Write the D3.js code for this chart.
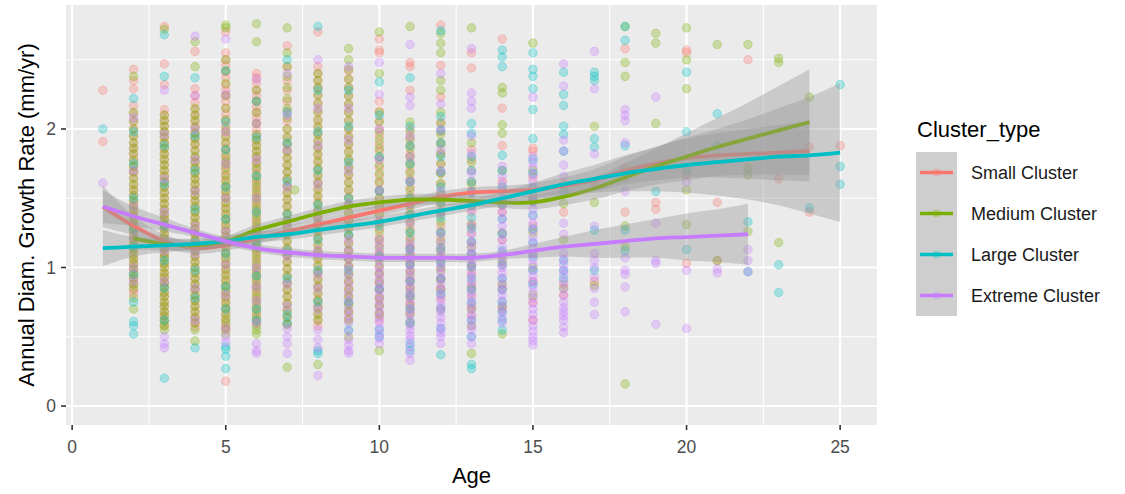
<!DOCTYPE html>
<html>
<head>
<meta charset="utf-8">
<script src="https://cdn.jsdelivr.net/npm/d3@7"></script>
<style>
  html, body { margin: 0; padding: 0; background: #ffffff; }
  svg { display: block; font-family: "Liberation Sans", Arial, sans-serif; }
</style>
</head>
<body>
<svg id="chart" width="1125" height="494"></svg>
<script>
// ---------- data ----------
const clusterNames = ["Small Cluster", "Medium Cluster", "Large Cluster", "Extreme Cluster"];
const clusterColors = ["#F8766D", "#7CAE00", "#00BFC4", "#C77CFF"];
const xTicks = [0, 5, 10, 15, 20, 25];
const yTicks = [0, 1, 2];
const xMinor = [2.5, 7.5, 12.5, 17.5, 22.5];
const yMinor = [0.5, 1.5, 2.5];

// observed points: [age, [growth rates]] (ages may repeat: several trees)
const smallPts = [
  [1, [2.28, 1.91]],
  [2, [2.43, 2.29, 2.17, 2.05, 1.95, 1.86, 1.78, 1.69, 1.60, 1.52, 1.45, 1.38, 1.31, 1.24, 1.17, 1.10, 1.03, 0.96, 0.88, 0.81]],
  [2, [2.35, 2.11, 2.00, 1.90, 1.82, 1.73, 1.65, 1.56, 1.48, 1.41, 1.34, 1.27, 1.20, 1.13, 1.06, 0.99, 0.92, 0.84]],
  [3, [2.74, 2.47, 2.32, 2.14, 2.06, 1.98, 1.90, 1.82, 1.74, 1.66, 1.58, 1.50, 1.42, 1.35, 1.28, 1.21, 1.14, 1.07, 1.00, 0.93, 0.86, 0.79, 0.72, 0.65, 0.58]],
  [3, [2.10, 2.02, 1.94, 1.86, 1.78, 1.70, 1.62, 1.54, 1.46, 1.38, 1.31, 1.24, 1.17, 1.10, 1.03, 0.96, 0.89, 0.82, 0.75, 0.68, 0.62]],
  [4, [2.56, 2.29, 2.19, 2.10, 2.02, 1.93, 1.85, 1.76, 1.68, 1.60, 1.52, 1.44, 1.36, 1.28, 1.20, 1.12, 1.04, 0.96, 0.88, 0.80, 0.72, 0.64, 0.57]],
  [4, [2.24, 2.14, 2.06, 1.97, 1.89, 1.80, 1.72, 1.64, 1.56, 1.48, 1.40, 1.32, 1.24, 1.16, 1.08, 1.00, 0.92, 0.84, 0.76, 0.68, 0.60]],
  [5, [2.70, 2.55, 2.46, 2.37, 2.28, 2.20, 2.11, 2.02, 1.94, 1.86, 1.78, 1.70, 1.62, 1.54, 1.46, 1.38, 1.30, 1.22, 1.14, 1.06, 0.98, 0.90, 0.82, 0.74, 0.66, 0.58, 0.18]],
  [5, [2.50, 2.41, 2.32, 2.24, 2.15, 2.06, 1.98, 1.90, 1.82, 1.74, 1.66, 1.58, 1.50, 1.42, 1.34, 1.26, 1.18, 1.10, 1.02, 0.94, 0.86, 0.78, 0.70, 0.62, 0.55]],
  [6, [2.40, 2.33, 2.24, 2.16, 2.08, 2.00, 1.92, 1.84, 1.76, 1.68, 1.60, 1.52, 1.44, 1.36, 1.28, 1.20, 1.12, 1.04, 0.96, 0.88, 0.80, 0.72, 0.64]],
  [6, [2.37, 2.28, 2.20, 2.12, 2.04, 1.96, 1.88, 1.80, 1.72, 1.64, 1.56, 1.48, 1.40, 1.32, 1.24, 1.16, 1.08, 1.00, 0.92, 0.84, 0.76, 0.68, 0.60]],
  [7, [2.60, 2.35, 2.20, 2.06, 1.94, 1.84, 1.74, 1.64, 1.54, 1.44, 1.34, 1.24, 1.14, 1.04, 0.94, 0.84, 0.74, 0.64]],
  [7, [2.45, 2.28, 2.13, 2.00, 1.89, 1.79, 1.69, 1.59, 1.49, 1.39, 1.29, 1.19, 1.09, 0.99, 0.89, 0.79, 0.69, 0.59]],
  [8, [2.70, 2.45, 2.35, 2.25, 2.13, 2.02, 1.92, 1.82, 1.72, 1.62, 1.52, 1.42, 1.32, 1.22, 1.12, 1.02, 0.92, 0.82, 0.72, 0.62, 0.58]],
  [8, [2.40, 2.30, 2.19, 2.07, 1.97, 1.87, 1.77, 1.67, 1.57, 1.47, 1.37, 1.27, 1.17, 1.07, 0.97, 0.87, 0.77, 0.67]],
  [9, [2.42, 2.30, 2.18, 2.06, 1.95, 1.84, 1.73, 1.62, 1.51, 1.40, 1.29, 1.18, 1.07, 0.96, 0.85, 0.74, 0.63]],
  [9, [2.36, 2.24, 2.12, 2.00, 1.89, 1.78, 1.67, 1.56, 1.45, 1.34, 1.23, 1.12, 1.01, 0.90, 0.79, 0.68]],
  [10, [2.65, 2.57, 2.55, 2.20, 2.06, 1.95, 1.84, 1.72, 1.61, 1.50, 1.39, 1.28, 1.17, 1.06, 0.95, 0.84, 0.73, 0.62]],
  [10, [2.13, 2.00, 1.89, 1.78, 1.66, 1.55, 1.44, 1.33, 1.22, 1.11, 1.00, 0.89, 0.78, 0.67]],
  [11, [2.48, 2.45, 2.28, 2.00, 1.88, 1.76, 1.64, 1.52, 1.40, 1.28, 1.16, 1.04, 0.92, 0.80, 0.68]],
  [11, [1.94, 1.82, 1.70, 1.58, 1.46, 1.34, 1.22, 1.10, 0.98, 0.86, 0.74]],
  [12, [2.75, 2.46, 2.23, 2.05, 1.90, 1.75, 1.60, 1.45, 1.30, 1.15, 1.00, 0.85, 0.70]],
  [12, [1.98, 1.82, 1.68, 1.52, 1.38, 1.22, 1.08, 0.92, 0.78]],
  [13, [2.55, 2.44, 1.85, 1.70, 1.55, 1.40, 1.25, 1.10, 0.95, 0.80, 0.65]],
  [13, [1.78, 1.62, 1.48, 1.32, 1.18, 1.02, 0.88, 0.72]],
  [14, [2.65, 2.15, 1.88, 1.62, 1.40, 1.20, 1.02, 0.85, 0.70]],
  [15, [1.86, 1.84, 1.65, 1.48, 1.30, 1.10, 0.90, 0.75, 0.62]],
  [16, [1.60, 1.40, 0.88, 0.80]],
  [17, [1.62, 0.90]],
  [18, [2.58, 1.72, 1.65, 1.40]],
  [19, [1.47, 1.42]],
  [20, [2.57, 2.55, 1.67, 1.03]],
  [21, [1.47, 1.05]],
  [22, [2.50]],
  [23, [1.64]],
  [24, [1.87, 1.40]],
  [25, [1.88]]
];
const mediumPts = [
  [2, [2.38, 2.12, 2.00, 1.90, 1.82, 1.73, 1.64, 1.56, 1.48, 1.41, 1.34, 1.27, 1.20, 1.13, 1.06, 0.99, 0.92, 0.85, 0.70]],
  [2, [2.06, 1.95, 1.86, 1.77, 1.69, 1.60, 1.52, 1.44, 1.37, 1.30, 1.23, 1.16, 1.09, 1.02, 0.95, 0.88, 0.78]],
  [3, [2.72, 2.10, 2.02, 1.94, 1.86, 1.78, 1.70, 1.62, 1.54, 1.46, 1.38, 1.31, 1.24, 1.17, 1.10, 1.03, 0.96, 0.89, 0.82, 0.75, 0.68, 0.61, 0.55]],
  [3, [2.06, 1.98, 1.90, 1.82, 1.74, 1.66, 1.58, 1.50, 1.42, 1.35, 1.28, 1.21, 1.14, 1.07, 1.00, 0.93, 0.86, 0.79, 0.72, 0.65, 0.58]],
  [4, [2.63, 2.45, 2.15, 2.06, 1.97, 1.89, 1.80, 1.72, 1.64, 1.56, 1.48, 1.40, 1.32, 1.24, 1.16, 1.08, 1.00, 0.92, 0.84, 0.76, 0.68, 0.60, 0.47]],
  [4, [2.10, 2.01, 1.93, 1.84, 1.76, 1.68, 1.60, 1.52, 1.44, 1.36, 1.28, 1.20, 1.12, 1.04, 0.96, 0.88, 0.80, 0.72, 0.64, 0.55]],
  [5, [2.75, 2.73, 2.50, 2.33, 2.15, 2.00, 1.90, 1.80, 1.72, 1.63, 1.55, 1.47, 1.39, 1.31, 1.23, 1.15, 1.07, 0.99, 0.91, 0.83, 0.75, 0.67, 0.60, 0.52]],
  [5, [2.42, 2.24, 2.07, 1.95, 1.85, 1.76, 1.67, 1.59, 1.51, 1.43, 1.35, 1.27, 1.19, 1.11, 1.03, 0.95, 0.87, 0.79, 0.71, 0.63, 0.56]],
  [6, [2.76, 2.63, 2.28, 2.12, 1.96, 1.88, 1.80, 1.71, 1.62, 1.54, 1.46, 1.38, 1.30, 1.22, 1.14, 1.06, 0.98, 0.90, 0.82, 0.74, 0.66, 0.58, 0.52]],
  [6, [2.20, 2.04, 1.92, 1.84, 1.75, 1.66, 1.58, 1.50, 1.42, 1.34, 1.26, 1.18, 1.10, 1.02, 0.94, 0.86, 0.78, 0.70, 0.62, 0.55]],
  [7, [2.73, 2.55, 2.45, 2.30, 2.15, 2.00, 1.89, 1.79, 1.69, 1.59, 1.49, 1.39, 1.29, 1.19, 1.09, 0.99, 0.89, 0.79, 0.69, 0.59, 0.28]],
  [7, [2.38, 2.22, 2.08, 1.94, 1.84, 1.74, 1.64, 1.54, 1.44, 1.34, 1.24, 1.14, 1.04, 0.94, 0.84, 0.74, 0.64]],
  [7.25, [1.56]],
  [8, [2.40, 2.30, 2.18, 2.06, 1.96, 1.86, 1.76, 1.66, 1.56, 1.46, 1.36, 1.26, 1.16, 1.06, 0.96, 0.86, 0.76, 0.66, 0.30]],
  [8, [2.35, 2.24, 2.12, 2.01, 1.91, 1.81, 1.71, 1.61, 1.51, 1.41, 1.31, 1.21, 1.11, 1.01, 0.91, 0.81, 0.71, 0.62]],
  [9, [2.58, 2.50, 2.36, 2.24, 2.12, 2.00, 1.89, 1.78, 1.67, 1.56, 1.45, 1.34, 1.23, 1.12, 1.01, 0.90, 0.79, 0.68, 0.50]],
  [9, [2.43, 2.30, 2.18, 2.06, 1.94, 1.83, 1.72, 1.61, 1.50, 1.39, 1.28, 1.17, 1.06, 0.95, 0.84, 0.73, 0.62]],
  [10, [2.70, 2.40, 2.12, 1.98, 1.86, 1.74, 1.62, 1.50, 1.38, 1.26, 1.14, 1.02, 0.90, 0.78, 0.66, 0.40]],
  [10, [2.05, 1.92, 1.80, 1.68, 1.56, 1.44, 1.32, 1.20, 1.08, 0.96, 0.84, 0.72]],
  [11, [2.74, 2.05, 1.92, 1.80, 1.68, 1.56, 1.44, 1.32, 1.20, 1.08, 0.96, 0.84, 0.72, 0.60]],
  [11, [1.98, 1.86, 1.74, 1.62, 1.50, 1.38, 1.26, 1.14, 1.02, 0.90, 0.78, 0.66]],
  [12, [2.69, 2.62, 2.55, 2.35, 2.28, 2.12, 1.96, 1.82, 1.68, 1.54, 1.40, 1.26, 1.12, 0.98, 0.84]],
  [12, [2.04, 1.89, 1.75, 1.61, 1.47, 1.33, 1.19, 1.05, 0.91]],
  [13, [2.73, 1.90, 1.76, 1.60, 1.45, 1.30, 1.15, 1.00, 0.85, 0.70, 0.58, 0.38]],
  [14, [2.30, 2.26, 2.03, 1.97, 1.70, 1.45, 1.25, 1.05, 0.88, 0.72, 0.52]],
  [15, [2.62, 1.70, 1.50, 1.25, 1.00, 0.80]],
  [16, [1.46, 1.20, 0.85]],
  [17, [2.02, 1.47, 0.87]],
  [18, [2.74, 2.48, 2.38, 1.30, 1.15, 0.16]],
  [19, [2.69, 2.62, 2.04]],
  [20, [2.73, 2.50, 2.29, 1.56, 1.31]],
  [21, [2.61, 1.05]],
  [22, [2.61, 1.72, 1.67, 1.26]],
  [23, [2.51, 2.48, 1.18]],
  [24, [2.23]]
];
const largePts = [
  [1, [2.00]],
  [2, [2.22, 1.98, 1.75, 1.50, 1.28, 1.15, 0.95, 0.75, 0.61, 0.58, 0.52]],
  [3, [2.68, 2.38, 1.88, 1.60, 1.30, 1.05, 0.85, 0.62, 0.20]],
  [4, [2.37, 1.95, 1.70, 1.42, 1.18, 0.98, 0.78, 0.42]],
  [5, [2.42, 2.05, 1.85, 1.58, 1.35, 1.10, 0.86, 0.70, 0.43, 0.41, 0.36, 0.27]],
  [6, [2.20, 1.94, 1.66, 1.40, 1.18, 0.94, 0.70, 0.62]],
  [7, [2.50, 2.12, 1.90, 1.62, 1.38, 1.12, 0.92, 0.66, 0.60]],
  [8, [2.74, 2.28, 1.98, 1.70, 1.45, 1.20, 0.98, 0.75, 0.40, 0.38]],
  [9, [2.28, 2.02, 1.76, 1.50, 1.24, 0.98, 0.75, 0.55]],
  [10, [2.34, 2.10, 1.80, 1.55, 1.30, 1.08, 0.85, 0.55, 0.50]],
  [11, [2.37, 2.02, 1.75, 1.50, 1.25, 1.02, 0.80, 0.60, 0.45, 0.40]],
  [11, [1.88, 1.62, 1.38, 1.13, 0.90, 0.70]],
  [12, [2.71, 2.09, 1.99, 1.80, 1.58, 1.36, 1.14, 0.92, 0.70, 0.56, 0.37]],
  [12, [1.90, 1.69, 1.47, 1.25, 1.03, 0.81]],
  [13, [2.04, 1.97, 1.80, 1.62, 1.45, 1.28, 1.10, 0.92, 0.75, 0.50, 0.30, 0.27]],
  [13, [1.70, 1.54, 1.36, 1.19, 1.01, 0.84, 0.62]],
  [14, [2.57, 2.52, 2.45, 1.81, 1.58, 1.35, 1.12, 0.92, 0.75, 0.62, 0.55]],
  [14, [1.70, 1.46, 1.24, 1.02, 0.84, 0.68]],
  [15, [2.55, 2.43, 2.38, 2.29, 2.14, 1.93, 1.78, 1.58, 1.38, 1.18, 0.98]],
  [15, [1.68, 1.48, 1.28, 1.08, 0.88]],
  [16, [2.41, 2.25, 2.17, 2.02, 1.96, 1.84, 1.55, 1.05, 0.98, 0.92]],
  [17, [2.41, 2.38, 2.35, 1.93, 1.87, 1.27, 0.98]],
  [18, [2.74, 2.64, 1.88, 1.27, 1.12]],
  [19, [1.55]],
  [20, [2.41, 1.98, 1.70, 1.13]],
  [21, [2.11, 1.88]],
  [22, [1.33, 0.97]],
  [23, [1.02, 0.82]],
  [24, [1.43]],
  [25, [2.32, 1.73, 1.60]]
];
const extremePts = [
  [1, [1.61]],
  [2, [2.08, 1.70, 1.44, 1.22, 1.00, 0.90]],
  [3, [2.28, 1.96, 1.64, 1.40, 1.12, 0.90, 0.50, 0.45, 0.42]],
  [4, [2.67, 2.24, 2.00, 1.78, 1.55, 1.30, 1.10, 0.85, 0.62]],
  [5, [2.65, 2.25, 1.98, 1.75, 1.50, 1.26, 1.02, 0.80, 0.56, 0.50, 0.46]],
  [6, [2.36, 2.04, 1.78, 1.50, 1.25, 1.00, 0.86, 0.76, 0.60, 0.45, 0.40, 0.38]],
  [7, [2.40, 2.10, 1.85, 1.58, 1.32, 1.08, 0.88, 0.72, 0.56, 0.50, 0.45, 0.38]],
  [8, [2.50, 2.15, 1.88, 1.60, 1.35, 1.12, 0.95, 0.85, 0.70, 0.55, 0.48, 0.42, 0.22]],
  [9, [2.45, 2.15, 1.92, 1.70, 1.46, 1.20, 1.06, 0.94, 0.82, 0.70, 0.60, 0.48, 0.40, 0.38]],
  [9, [1.13, 1.00, 0.88, 0.76, 0.65, 0.54, 0.44]],
  [10, [2.48, 2.25, 2.00, 1.78, 1.56, 1.34, 1.20, 1.10, 1.00, 0.92, 0.84, 0.76, 0.68, 0.60, 0.52, 0.45]],
  [10, [1.15, 1.05, 0.96, 0.88, 0.80, 0.72, 0.64, 0.56, 0.49]],
  [11, [2.61, 2.23, 2.17, 1.95, 1.80, 1.62, 1.46, 1.32, 1.18, 1.10, 1.02, 0.94, 0.86, 0.78, 0.70, 0.62, 0.55, 0.48, 0.38, 0.33]],
  [11, [1.14, 1.06, 0.98, 0.90, 0.82, 0.74, 0.66, 0.58, 0.51, 0.43]],
  [12, [2.40, 2.18, 2.00, 1.85, 1.70, 1.55, 1.40, 1.25, 1.12, 1.04, 0.96, 0.88, 0.80, 0.72, 0.64, 0.56, 0.50, 0.45]],
  [12, [1.18, 1.08, 1.00, 0.92, 0.84, 0.76, 0.68, 0.60, 0.53]],
  [13, [2.58, 2.26, 2.20, 2.15, 1.95, 1.82, 1.68, 1.55, 1.42, 1.30, 1.18, 1.10, 1.02, 0.94, 0.86, 0.78, 0.70, 0.62, 0.55, 0.45]],
  [13, [1.24, 1.14, 1.06, 0.98, 0.90, 0.82, 0.74, 0.66, 0.58, 0.50]],
  [14, [1.73, 1.66, 1.55, 1.45, 1.35, 1.25, 1.15, 1.08, 1.00, 0.92, 0.84, 0.76, 0.68, 0.60]],
  [14, [1.60, 1.50, 1.40, 1.30, 1.20, 1.11, 1.04, 0.96, 0.88, 0.80, 0.72, 0.64]],
  [15, [2.23, 1.80, 1.72, 1.62, 1.52, 1.42, 1.32, 1.22, 1.14, 1.06, 0.98, 0.90, 0.82, 0.74, 0.66, 0.58, 0.50, 0.44]],
  [15, [1.76, 1.67, 1.57, 1.47, 1.37, 1.27, 1.18, 1.10, 1.02, 0.94, 0.86, 0.78, 0.70, 0.62, 0.54, 0.47]],
  [16, [2.47, 2.31, 1.92, 1.84, 1.74, 1.66, 1.32, 1.24, 1.10, 1.02, 0.95, 0.85, 0.75, 0.68, 0.62, 0.53]],
  [16, [1.06, 0.98, 0.90, 0.80, 0.71, 0.65, 0.57]],
  [17, [2.56, 2.29, 1.82, 1.30, 1.10, 1.05, 1.00, 0.93, 0.85, 0.75, 0.66]],
  [18, [2.14, 2.10, 2.06, 1.90, 1.55, 1.07, 0.98, 0.95, 0.86, 0.68]],
  [19, [2.23, 1.32, 1.05, 1.03, 0.59]],
  [20, [1.62, 0.98, 0.56]],
  [21, [0.99, 0.96]],
  [22, [1.13, 1.05, 0.97]]
];

// loess fits
const smallAge = [1, 2, 3, 4, 5, 6, 7, 8, 9, 10, 11, 12, 13, 14, 15, 16, 17, 18, 19, 20, 21, 22, 23, 24];
const smallFit = [1.44, 1.30, 1.19, 1.14, 1.16, 1.21, 1.26, 1.31, 1.36, 1.41, 1.46, 1.51, 1.54, 1.55, 1.56, 1.59, 1.63, 1.70, 1.75, 1.79, 1.81, 1.82, 1.83, 1.84];
const smallSe  = [0.15, 0.07, 0.05, 0.04, 0.04, 0.04, 0.04, 0.04, 0.04, 0.04, 0.04, 0.04, 0.04, 0.04, 0.05, 0.06, 0.08, 0.10, 0.12, 0.14, 0.16, 0.18, 0.20, 0.22];

const mediumAge = [2, 3, 4, 5, 6, 7, 8, 9, 10, 11, 12, 13, 14, 15, 16, 17, 18, 19, 20, 21, 22, 23, 24];
const mediumFit = [1.21, 1.17, 1.16, 1.19, 1.27, 1.33, 1.39, 1.44, 1.47, 1.49, 1.49, 1.48, 1.47, 1.47, 1.51, 1.57, 1.65, 1.73, 1.80, 1.87, 1.93, 1.99, 2.05];
const mediumSe  = [0.08, 0.05, 0.04, 0.04, 0.04, 0.04, 0.04, 0.04, 0.04, 0.04, 0.04, 0.04, 0.04, 0.05, 0.06, 0.08, 0.10, 0.13, 0.17, 0.21, 0.26, 0.32, 0.38];

const largeAge = [1, 2, 3, 4, 5, 6, 7, 8, 9, 10, 11, 12, 13, 14, 15, 16, 17, 18, 19, 20, 21, 22, 23, 24, 25];
const largeFit = [1.14, 1.15, 1.16, 1.17, 1.19, 1.22, 1.24, 1.27, 1.30, 1.33, 1.37, 1.41, 1.45, 1.50, 1.55, 1.60, 1.64, 1.68, 1.71, 1.74, 1.76, 1.78, 1.80, 1.81, 1.83];
const largeSe  = [0.13, 0.07, 0.05, 0.04, 0.04, 0.04, 0.04, 0.04, 0.04, 0.04, 0.04, 0.04, 0.04, 0.05, 0.06, 0.08, 0.10, 0.13, 0.16, 0.20, 0.24, 0.29, 0.35, 0.42, 0.50];

const extremeAge = [1, 2, 3, 4, 5, 6, 7, 8, 9, 10, 11, 12, 13, 14, 15, 16, 17, 18, 19, 20, 21, 22];
const extremeFit = [1.44, 1.37, 1.31, 1.25, 1.19, 1.14, 1.11, 1.09, 1.08, 1.07, 1.07, 1.07, 1.07, 1.09, 1.12, 1.15, 1.17, 1.19, 1.21, 1.22, 1.23, 1.24];
const extremeSe  = [0.12, 0.07, 0.05, 0.03, 0.03, 0.03, 0.03, 0.03, 0.03, 0.03, 0.03, 0.03, 0.03, 0.03, 0.05, 0.07, 0.10, 0.12, 0.14, 0.17, 0.19, 0.22];

// ---------- build ----------
const pointSets = [smallPts, mediumPts, largePts, extremePts];
const fits = [
  {age: smallAge, fit: smallFit, se: smallSe},
  {age: mediumAge, fit: mediumFit, se: mediumSe},
  {age: largeAge, fit: largeFit, se: largeSe},
  {age: extremeAge, fit: extremeFit, se: extremeSe}
];

const svg = d3.select("#chart");
const W = 1125, H = 494;
const panel = {left: 66, right: 877, top: 5, bottom: 425};

const x = d3.scaleLinear().domain([-0.2, 26.2]).range([panel.left, panel.right]);
const y = d3.scaleLinear().domain([-0.137, 2.895]).range([panel.bottom, panel.top]);

svg.append("rect").attr("width", W).attr("height", H).attr("fill", "#ffffff");

svg.append("rect")
  .attr("x", panel.left).attr("y", panel.top)
  .attr("width", panel.right - panel.left).attr("height", panel.bottom - panel.top)
  .attr("fill", "#EBEBEB");

const grid = svg.append("g");
grid.selectAll("line.xminor").data(xMinor).join("line")
  .attr("x1", d => x(d)).attr("x2", d => x(d))
  .attr("y1", panel.top).attr("y2", panel.bottom)
  .attr("stroke", "#fff").attr("stroke-width", 1.1);
grid.selectAll("line.yminor").data(yMinor).join("line")
  .attr("y1", d => y(d)).attr("y2", d => y(d))
  .attr("x1", panel.left).attr("x2", panel.right)
  .attr("stroke", "#fff").attr("stroke-width", 1.1);
grid.selectAll("line.xmajor").data(xTicks).join("line")
  .attr("x1", d => x(d)).attr("x2", d => x(d))
  .attr("y1", panel.top).attr("y2", panel.bottom)
  .attr("stroke", "#fff").attr("stroke-width", 2.2);
grid.selectAll("line.ymajor").data(yTicks).join("line")
  .attr("y1", d => y(d)).attr("y2", d => y(d))
  .attr("x1", panel.left).attr("x2", panel.right)
  .attr("stroke", "#fff").attr("stroke-width", 2.2);

// points
const flat = [];
pointSets.forEach((set, ci) => {
  set.forEach(([age, vals]) => vals.forEach(v => flat.push({age, v, ci})));
});
svg.append("defs").append("clipPath").attr("id", "pclip")
  .append("rect").attr("x", panel.left).attr("y", panel.top)
  .attr("width", panel.right - panel.left).attr("height", panel.bottom - panel.top);

const plot = svg.append("g").attr("clip-path", "url(#pclip)");
plot.append("g").selectAll("circle").data(flat).join("circle")
  .attr("cx", d => x(d.age)).attr("cy", d => y(d.v)).attr("r", 4.3)
  .attr("fill", d => clusterColors[d.ci]).attr("fill-opacity", 0.3)
  .attr("stroke", d => clusterColors[d.ci]).attr("stroke-opacity", 0.35).attr("stroke-width", 0.8);

// smooths: ribbon + line per group
const curve = d3.curveCatmullRom.alpha(0.5);
fits.forEach((f, ci) => {
  const rows = f.age.map((a, i) => ({a, m: f.fit[i], s: f.se[i]}));
  const area = d3.area().curve(curve)
    .x(d => x(d.a)).y0(d => y(d.m - d.s)).y1(d => y(d.m + d.s));
  const line = d3.line().curve(curve).x(d => x(d.a)).y(d => y(d.m));
  plot.append("path").datum(rows).attr("d", area)
    .attr("fill", "#999999").attr("fill-opacity", 0.4);
  plot.append("path").datum(rows).attr("d", line)
    .attr("fill", "none").attr("stroke", clusterColors[ci]).attr("stroke-width", 3.8)
    .attr("stroke-linecap", "butt");
});

// axes
const axisCol = "#333333", textCol = "#4D4D4D";
const xa = svg.append("g");
xa.selectAll("line").data(xTicks).join("line")
  .attr("x1", d => x(d)).attr("x2", d => x(d))
  .attr("y1", panel.bottom).attr("y2", panel.bottom + 5)
  .attr("stroke", axisCol).attr("stroke-width", 1.6);
xa.selectAll("text").data(xTicks).join("text")
  .attr("x", d => x(d)).attr("y", 453)
  .attr("text-anchor", "middle").attr("font-size", 17.5).attr("fill", textCol)
  .text(d => d);

const ya = svg.append("g");
ya.selectAll("line").data(yTicks).join("line")
  .attr("x1", panel.left - 5).attr("x2", panel.left)
  .attr("y1", d => y(d)).attr("y2", d => y(d))
  .attr("stroke", axisCol).attr("stroke-width", 1.6);
ya.selectAll("text").data(yTicks).join("text")
  .attr("x", 56).attr("y", d => y(d) + 6.3)
  .attr("text-anchor", "end").attr("font-size", 17.5).attr("fill", textCol)
  .text(d => d);

svg.append("text").attr("x", (panel.left + panel.right) / 2).attr("y", 483)
  .attr("text-anchor", "middle").attr("font-size", 22).attr("fill", "#000")
  .text("Age");
svg.append("text")
  .attr("transform", `translate(34,${(panel.top + panel.bottom) / 2}) rotate(-90)`)
  .attr("text-anchor", "middle").attr("font-size", 22).attr("fill", "#000")
  .text("Annual Diam. Growth Rate (mm/yr)");

// legend
const lg = svg.append("g");
lg.append("text").attr("x", 917).attr("y", 137).attr("font-size", 22).attr("fill", "#000")
  .text("Cluster_type");
clusterNames.forEach((name, i) => {
  const top = 152 + i * 41;
  lg.append("rect").attr("x", 916).attr("y", top).attr("width", 41).attr("height", 41)
    .attr("fill", "#F2F2F2");
  lg.append("rect").attr("x", 916).attr("y", top).attr("width", 41).attr("height", 41)
    .attr("fill", "#999999").attr("fill-opacity", 0.4);
  lg.append("circle").attr("cx", 936.5).attr("cy", top + 20.5).attr("r", 4)
    .attr("fill", clusterColors[i]).attr("fill-opacity", 0.3);
  lg.append("line").attr("x1", 920).attr("x2", 953)
    .attr("y1", top + 20.5).attr("y2", top + 20.5)
    .attr("stroke", clusterColors[i]).attr("stroke-width", 3.6);
  lg.append("text").attr("x", 971).attr("y", top + 27).attr("font-size", 18).attr("fill", "#1A1A1A")
    .text(name);
});
</script>
</body>
</html>
